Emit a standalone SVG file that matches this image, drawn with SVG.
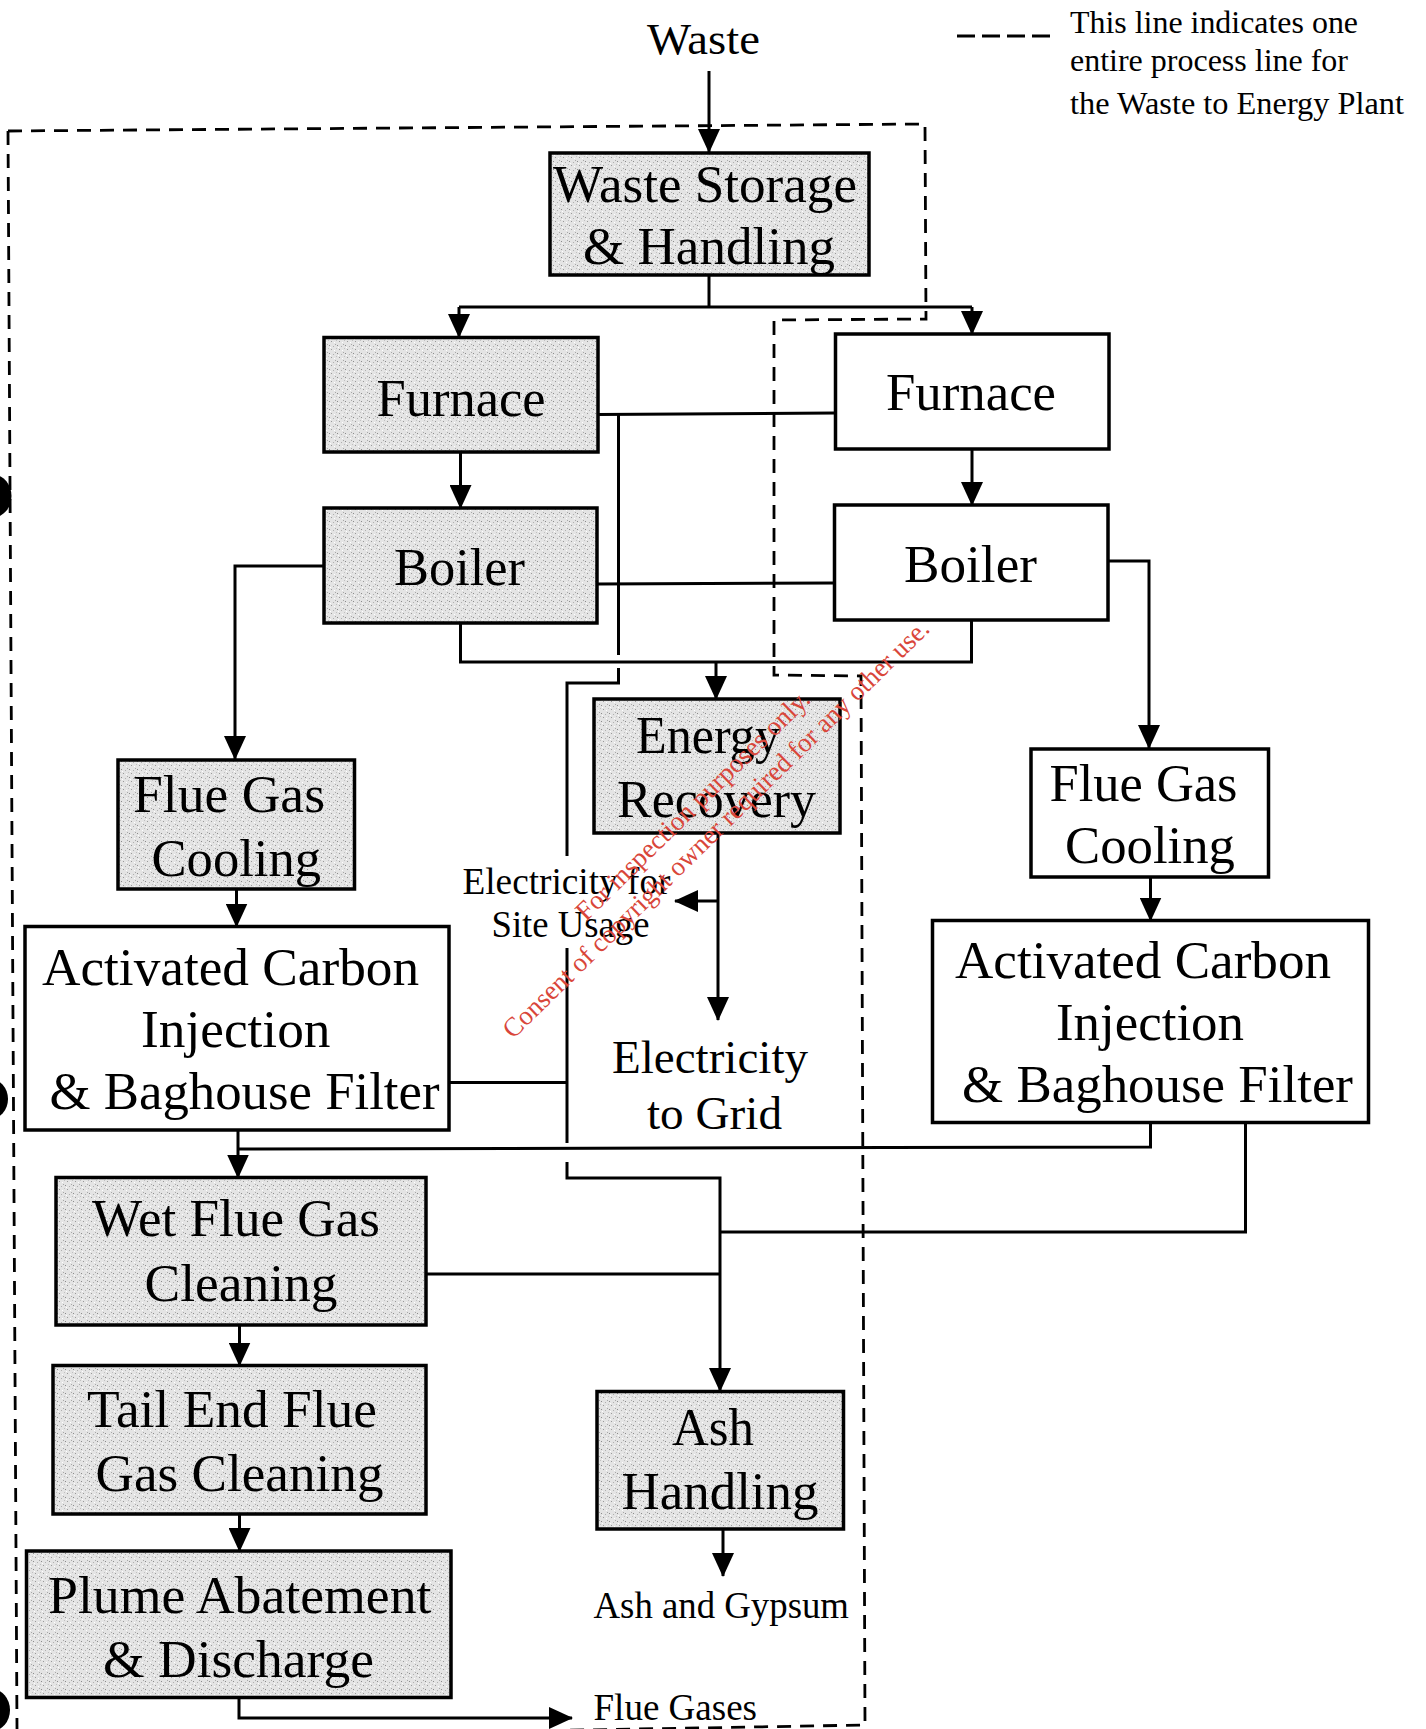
<svg xmlns="http://www.w3.org/2000/svg" width="1426" height="1729" viewBox="0 0 1426 1729">
  <style>
    .t { font-family: "Liberation Serif", "Times New Roman", serif; fill: #000; }
    .big { font-size: 53px; }
    .mid { font-size: 47px; }
    .small { font-size: 37px; }
    .legend { font-size: 32px; }
    .box { stroke: #000; stroke-width: 3.5; }
    .grey { fill: url(#stip); }
    .white { fill: #fff; }
    .wire { fill: none; stroke: #000; stroke-width: 3; }
    .arrow { fill: none; stroke: #000; stroke-width: 3; marker-end: url(#head); }
    .dash { fill: none; stroke: #000; stroke-width: 2.8; stroke-dasharray: 14 9; }
    .mark { font-family: "Liberation Serif", "Times New Roman", serif; font-size: 27px; fill: #d9463a; }
  </style>
  <defs>
    <marker id="head" markerUnits="userSpaceOnUse" markerWidth="24" markerHeight="22" refX="23" refY="11" orient="auto">
      <path d="M0,0 L24,11 L0,22 z" fill="#000"/>
    </marker>
    <!-- speckled grey shading used on the shaded process boxes -->
    <pattern id="stip" width="8" height="8" patternUnits="userSpaceOnUse">
      <rect width="8" height="8" fill="#e4e4e4"/>
      <rect x="1" y="1" width="1" height="1" fill="#8c8c8c"/>
      <rect x="5" y="2" width="1" height="1" fill="#b0b0b0"/>
      <rect x="3" y="5" width="1" height="1" fill="#999"/>
      <rect x="6" y="6" width="1" height="1" fill="#fff"/>
      <rect x="0" y="4" width="1" height="1" fill="#c0c0c0"/>
      <rect x="2" y="3" width="1" height="1" fill="#fff"/>
      <rect x="7" y="0" width="1" height="1" fill="#a8a8a8"/>
    </pattern>
  </defs>

  <rect width="1426" height="1729" fill="#fff"/>

  <!-- binder punch holes along the left edge -->
  <g id="holes" fill="#000">
    <ellipse cx="-6" cy="496" rx="17.5" ry="21"/>
    <ellipse cx="-10" cy="1099" rx="18" ry="20"/>
    <ellipse cx="-8" cy="1710" rx="18" ry="21"/>
  </g>

  <!-- legend -->
  <g id="legend">
    <line x1="957" y1="36" x2="1050" y2="36" stroke="#000" stroke-width="2.8" stroke-dasharray="18 7"/>
    <text class="t legend" x="1070" y="33" textLength="288" lengthAdjust="spacingAndGlyphs">This line indicates one</text>
    <text class="t legend" x="1070" y="71" textLength="278" lengthAdjust="spacingAndGlyphs">entire process line for</text>
    <text class="t legend" x="1070" y="114" textLength="334" lengthAdjust="spacingAndGlyphs">the Waste to Energy Plant</text>
  </g>

  <!-- dashed boundary of one process line -->
  <g id="process-line-boundary">
    <path class="dash" d="M8,131 L925,124 L926,319 L774,320 L774,675 L861,676 L865,1725 L17,1740"/>
    <path class="dash" d="M8,131 L17,1729"/>
  </g>

  <!-- input label -->
  <g id="waste-input">
    <text class="t" font-size="45" x="647" y="54" textLength="113" lengthAdjust="spacingAndGlyphs">Waste</text>
  </g>

  <!-- connectors -->
  <g id="connectors">
    <line class="arrow" x1="709" y1="71" x2="709" y2="152"/>
    <polyline class="wire" points="709,275 709,307"/>
    <polyline class="wire" points="459,307 972,307"/>
    <line class="arrow" x1="459" y1="307" x2="459" y2="337"/>
    <line class="arrow" x1="972" y1="307" x2="972" y2="334"/>

    <line class="arrow" x1="460.5" y1="452" x2="460.5" y2="508"/>
    <line class="arrow" x1="972" y1="449" x2="972" y2="505"/>

    <!-- furnace to furnace, with branch down to the ash line -->
    <polyline class="wire" points="598,414.5 835.5,413"/>
    <polyline class="wire" points="618.5,414.5 618.5,655"/>
    <polyline class="wire" points="618.5,668 618.5,683 567,683 567,856"/>
    <polyline class="wire" points="567,948 567,1143"/>
    <polyline class="wire" points="567,1162 567,1178 720,1178 720,1232"/>
    <line class="arrow" x1="720" y1="1232" x2="720" y2="1391"/>
    <polyline class="wire" points="449,1082.5 567,1082.5"/>

    <!-- boilers -->
    <polyline class="wire" points="324,566 235,566 235,740"/>
    <line class="arrow" x1="235" y1="740" x2="235" y2="759"/>
    <polyline class="wire" points="597,584 834.5,583"/>
    <polyline class="wire" points="460.5,623 460.5,662 971.5,662 971.5,620"/>
    <line class="arrow" x1="716" y1="662" x2="716" y2="699"/>
    <polyline class="wire" points="1108,561 1149,561 1149,730"/>
    <line class="arrow" x1="1149" y1="730" x2="1149" y2="748"/>

    <!-- energy recovery outputs -->
    <line class="arrow" x1="718" y1="833" x2="718" y2="1020"/>
    <line class="arrow" x1="718" y1="901" x2="675" y2="901"/>

    <!-- flue gas cooling to carbon injection -->
    <line class="arrow" x1="236.5" y1="889" x2="236.5" y2="926.5"/>
    <line class="arrow" x1="1150.5" y1="877" x2="1150.5" y2="920.5"/>

    <!-- carbon injection outputs -->
    <line class="arrow" x1="238" y1="1130" x2="238" y2="1177.5"/>
    <polyline class="wire" points="238,1149 1150.5,1147 1150.5,1122.5"/>
    <polyline class="wire" points="1245.5,1122.5 1245.5,1232 720,1232"/>
    <polyline class="wire" points="426,1274 720,1274"/>

    <!-- flue gas treatment chain -->
    <line class="arrow" x1="239.5" y1="1325" x2="239.5" y2="1365.5"/>
    <line class="arrow" x1="239.5" y1="1514" x2="239.5" y2="1551"/>
    <polyline class="wire" points="239,1698 239,1718 550,1718"/>
    <line class="arrow" x1="550" y1="1718" x2="572" y2="1718"/>

    <line class="arrow" x1="723" y1="1529" x2="723" y2="1576"/>
  </g>

  <!-- nodes -->
  <g id="waste-storage">
    <rect class="box grey" x="550" y="153" width="319" height="122"/>
    <text class="t big" x="553" y="202" textLength="304" lengthAdjust="spacingAndGlyphs">Waste Storage</text>
    <text class="t big" x="583" y="264" textLength="252" lengthAdjust="spacingAndGlyphs">&amp; Handling</text>
  </g>

  <g id="furnace-1">
    <rect class="box grey" x="324" y="337.5" width="274" height="114.5"/>
    <text class="t big" x="376.5" y="415.5" textLength="169" lengthAdjust="spacingAndGlyphs">Furnace</text>
  </g>

  <g id="furnace-2">
    <rect class="box white" x="835.5" y="334" width="273.5" height="115"/>
    <text class="t big" x="886" y="410" textLength="170" lengthAdjust="spacingAndGlyphs">Furnace</text>
  </g>

  <g id="boiler-1">
    <rect class="box grey" x="324" y="508" width="273" height="115"/>
    <text class="t big" x="394" y="585" textLength="131" lengthAdjust="spacingAndGlyphs">Boiler</text>
  </g>

  <g id="boiler-2">
    <rect class="box white" x="834.5" y="505" width="273.5" height="115"/>
    <text class="t big" x="904" y="582" textLength="133" lengthAdjust="spacingAndGlyphs">Boiler</text>
  </g>

  <g id="energy-recovery">
    <rect class="box grey" x="594" y="699" width="246" height="134"/>
    <text class="t big" x="636" y="753" textLength="144" lengthAdjust="spacingAndGlyphs">Energy</text>
    <text class="t big" x="617" y="817" textLength="199" lengthAdjust="spacingAndGlyphs">Recovery</text>
  </g>

  <g id="site-usage">
    <text class="t small" x="462.5" y="894" textLength="208" lengthAdjust="spacingAndGlyphs">Electricity for</text>
    <text class="t small" x="491.5" y="936.5" textLength="158" lengthAdjust="spacingAndGlyphs">Site Usage</text>
  </g>

  <g id="grid">
    <text class="t mid" x="612" y="1073" textLength="196" lengthAdjust="spacingAndGlyphs">Electricity</text>
    <text class="t mid" x="647" y="1129" textLength="135" lengthAdjust="spacingAndGlyphs">to Grid</text>
  </g>

  <g id="flue-gas-cooling-1">
    <rect class="box grey" x="118" y="760" width="236.5" height="129"/>
    <text class="t big" x="133" y="812" textLength="192" lengthAdjust="spacingAndGlyphs">Flue Gas</text>
    <text class="t big" x="151.5" y="876" textLength="169.5" lengthAdjust="spacingAndGlyphs">Cooling</text>
  </g>

  <g id="flue-gas-cooling-2">
    <rect class="box white" x="1031" y="749" width="237.5" height="128"/>
    <text class="t big" x="1049.5" y="801" textLength="188" lengthAdjust="spacingAndGlyphs">Flue Gas</text>
    <text class="t big" x="1065" y="863" textLength="170" lengthAdjust="spacingAndGlyphs">Cooling</text>
  </g>

  <g id="carbon-injection-1">
    <rect class="box white" x="25" y="926.5" width="424" height="203.5"/>
    <text class="t big" x="42" y="985" textLength="377" lengthAdjust="spacingAndGlyphs">Activated Carbon</text>
    <text class="t big" x="141" y="1047" textLength="189.5" lengthAdjust="spacingAndGlyphs">Injection</text>
    <text class="t big" x="49.5" y="1109" textLength="390" lengthAdjust="spacingAndGlyphs">&amp; Baghouse Filter</text>
  </g>

  <g id="carbon-injection-2">
    <rect class="box white" x="932.5" y="920.5" width="436" height="202"/>
    <text class="t big" x="955" y="978" textLength="376" lengthAdjust="spacingAndGlyphs">Activated Carbon</text>
    <text class="t big" x="1056" y="1040" textLength="188" lengthAdjust="spacingAndGlyphs">Injection</text>
    <text class="t big" x="962" y="1102" textLength="391" lengthAdjust="spacingAndGlyphs">&amp; Baghouse Filter</text>
  </g>

  <g id="wet-flue-gas-cleaning">
    <rect class="box grey" x="56" y="1177.5" width="370" height="147.5"/>
    <text class="t big" x="92" y="1236" textLength="288" lengthAdjust="spacingAndGlyphs">Wet Flue Gas</text>
    <text class="t big" x="144.5" y="1300.5" textLength="193" lengthAdjust="spacingAndGlyphs">Cleaning</text>
  </g>

  <g id="tail-end-cleaning">
    <rect class="box grey" x="53" y="1365.5" width="373" height="148.5"/>
    <text class="t big" x="87" y="1427" textLength="290" lengthAdjust="spacingAndGlyphs">Tail End Flue</text>
    <text class="t big" x="95.5" y="1491" textLength="288" lengthAdjust="spacingAndGlyphs">Gas Cleaning</text>
  </g>

  <g id="plume-abatement">
    <rect class="box grey" x="26.5" y="1551" width="424.5" height="146.5"/>
    <text class="t big" x="48" y="1613" textLength="383.5" lengthAdjust="spacingAndGlyphs">Plume Abatement</text>
    <text class="t big" x="103" y="1677" textLength="271" lengthAdjust="spacingAndGlyphs">&amp; Discharge</text>
  </g>

  <g id="flue-gases">
    <text class="t small" x="593.5" y="1719.5" textLength="163.5" lengthAdjust="spacingAndGlyphs">Flue Gases</text>
  </g>

  <g id="ash-handling">
    <rect class="box grey" x="597" y="1391.5" width="246.5" height="137.5"/>
    <text class="t big" x="672" y="1445" textLength="82" lengthAdjust="spacingAndGlyphs">Ash</text>
    <text class="t big" x="621.5" y="1509" textLength="197" lengthAdjust="spacingAndGlyphs">Handling</text>
  </g>

  <g id="ash-gypsum">
    <text class="t small" x="593.5" y="1618" textLength="255.5" lengthAdjust="spacingAndGlyphs">Ash and Gypsum</text>
  </g>

  <!-- diagonal stamp -->
  <g id="stamp" transform="translate(722,835) rotate(-44.4)">
    <text class="mark" x="0" y="-33" text-anchor="middle" textLength="316" lengthAdjust="spacingAndGlyphs">For inspection purposes only.</text>
    <text class="mark" x="0" y="0" text-anchor="middle" textLength="585" lengthAdjust="spacingAndGlyphs">Consent of copyright owner required for any other use.</text>
  </g>
</svg>
